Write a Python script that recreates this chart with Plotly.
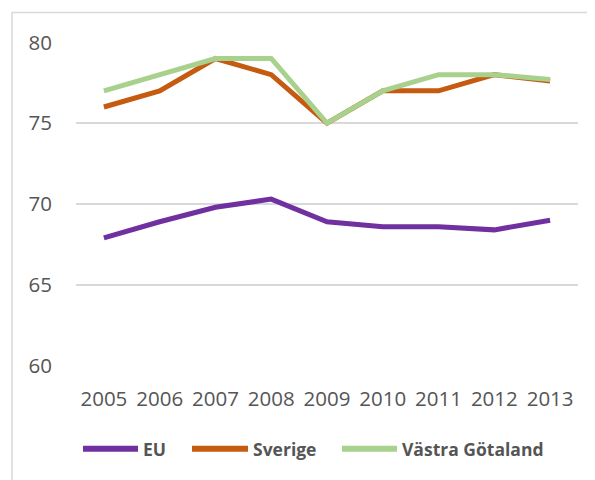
import plotly.graph_objects as go

years = ["2005", "2006", "2007", "2008", "2009", "2010", "2011", "2012", "2013"]
eu = [67.9, 68.9, 69.8, 70.3, 68.9, 68.6, 68.6, 68.4, 69.0]
sverige = [76.0, 77.0, 79.0, 78.0, 75.0, 77.0, 77.0, 78.0, 77.6]
vastra = [77.0, 78.0, 79.0, 79.0, 75.0, 77.0, 78.0, 78.0, 77.7]
y_ticks = [60, 65, 70, 75, 80]
series_names = ["EU", "Sverige", "Västra Götaland"]
series_colors = ["#7030A0", "#C55A11", "#A9D18E"]

# page body has an 8px default margin; work in page pixels and convert
OFF = 8
W, H = 595 - OFF, 480 - OFF
PL, PR, PT, PB = 76, 578, 41.5, 366   # plot area in page pixels
ML, MR, MT, MB = PL - OFF, W - (PR - OFF), PT - OFF, H - (PB - OFF)
pw, ph = PR - PL, PB - PT

def px(x):
    return (x - PL) / pw

def py(y):
    return (PB - y) / ph

fig = go.Figure()
for name, vals, col in zip(series_names, [eu, sverige, vastra], series_colors):
    fig.add_trace(go.Scatter(x=years, y=vals, name=name, mode="lines",
                             line=dict(color=col, width=5), showlegend=False))

# custom legend (page pixel positions)
leg_y = 449
leg_lines = [(83, 138), (192, 248), (342, 397)]
shapes = [dict(type="rect", xref="paper", yref="paper",
               x0=px(12), x1=px(640), y0=py(520), y1=py(12),
               line=dict(color="#D9D9D9", width=1.5), layer="below")]
annotations = []
for (x0, x1), name, col in zip(leg_lines, series_names, series_colors):
    shapes.append(dict(type="line", xref="paper", yref="paper",
                       x0=px(x0), x1=px(x1), y0=py(leg_y), y1=py(leg_y),
                       line=dict(color=col, width=6)))
    annotations.append(dict(xref="paper", yref="paper", x=px(x1 + 3), y=py(leg_y),
                            xanchor="left", yanchor="middle", showarrow=False,
                            text="<b>" + name + "</b>",
                            font=dict(size=17.5, color="#555555", family="Open Sans")))

fig.update_layout(
    width=W, height=H,
    margin=dict(l=ML, r=MR, t=MT, b=MB),
    paper_bgcolor="white", plot_bgcolor="white",
    font=dict(family="Open Sans", color="#555555", size=20),
    showlegend=False,
    xaxis=dict(type="category", range=[-0.5, 8.5], showgrid=False, showline=False,
               ticks="", tickfont=dict(size=20.5), ticklabelstandoff=18),
    yaxis=dict(range=[59.98, 80.02], tickvals=y_ticks, showgrid=True, gridcolor="#D9D9D9",
               gridwidth=1.5, zeroline=False, showline=False, ticks="",
               tickfont=dict(size=20.5), ticklabelstandoff=23),
    shapes=shapes,
    annotations=annotations,
)

fig.write_html("out.html")
